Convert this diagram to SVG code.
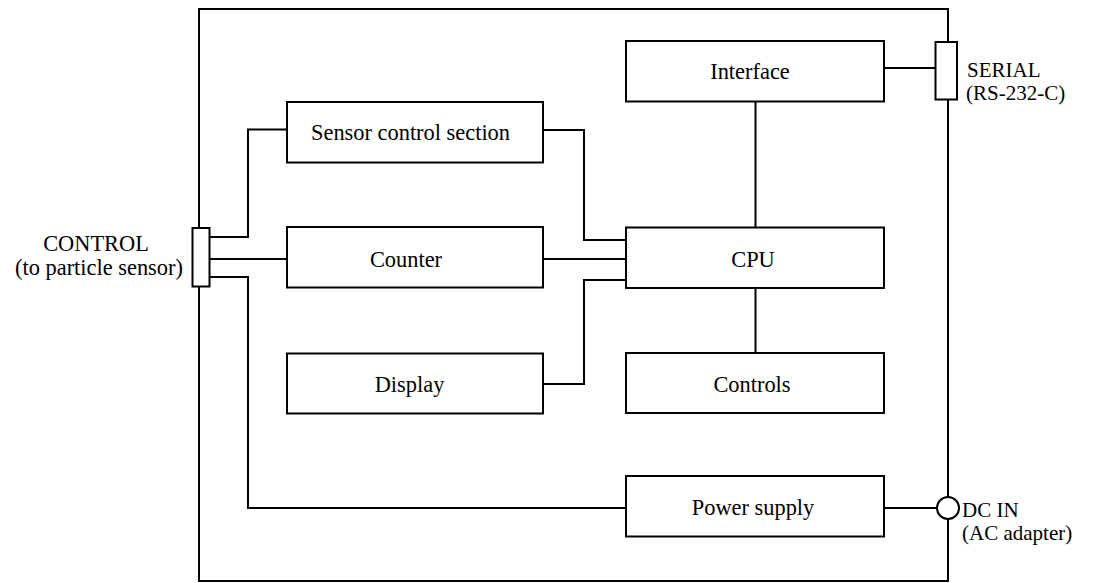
<svg xmlns="http://www.w3.org/2000/svg" width="1096" height="583" viewBox="0 0 1096 583">
<style>
.box{fill:#fff;stroke:#000;stroke-width:2}
.w{fill:none;stroke:#000;stroke-width:2}
text{font-family:"Liberation Serif","DejaVu Serif","Times New Roman",serif;font-size:22.4px;fill:#000}
.m{text-anchor:middle}
.s{font-size:21px}
</style>
<rect width="1096" height="583" fill="#fff"/>
<g id="enclosure">
<rect class="w" x="199" y="9" width="749" height="572"/>
</g>
<g id="connectors">
<polyline class="w" points="209,237 248,237 248,129.5 287,129.5"/>
<line class="w" x1="209" y1="259" x2="287" y2="259"/>
<polyline class="w" points="209,277 248,277 248,508 626,508"/>
<polyline class="w" points="543,130 584,130 584,240 626,240"/>
<line class="w" x1="543" y1="259" x2="626" y2="259"/>
<polyline class="w" points="543,384 584,384 584,280 626,280"/>
<line class="w" x1="755.5" y1="101.5" x2="755.5" y2="227.5"/>
<line class="w" x1="755.5" y1="288" x2="755.5" y2="353"/>
<line class="w" x1="884" y1="68" x2="935" y2="68"/>
<line class="w" x1="884" y1="508" x2="937" y2="508"/>
</g>
<g id="control-port">
<rect class="box" x="192.5" y="228" width="17" height="58.5"/>
<text class="m" x="96" y="251">CONTROL</text>
<text class="m" x="99" y="275">(to particle sensor)</text>
</g>
<g id="serial-port">
<rect class="box" x="935.5" y="42" width="21.5" height="57.5"/>
<text class="s" x="967" y="77">SERIAL</text>
<text class="s" x="966" y="100">(RS-232-C)</text>
</g>
<g id="dc-in">
<circle class="box" cx="948" cy="508" r="11"/>
<text class="s" x="962" y="517">DC IN</text>
<text class="s" x="962" y="540">(AC adapter)</text>
</g>
<g id="sensor-control">
<rect class="box" x="287" y="102" width="256" height="60.5"/>
<text class="m" x="410.5" y="139.5">Sensor control section</text>
</g>
<g id="counter">
<rect class="box" x="287" y="227" width="256" height="60.5"/>
<text class="m" x="406" y="266.5">Counter</text>
</g>
<g id="display">
<rect class="box" x="287" y="353.5" width="256" height="60"/>
<text class="m" x="409.5" y="391.5">Display</text>
</g>
<g id="interface">
<rect class="box" x="626" y="41" width="258" height="60.5"/>
<text class="m" x="750" y="79">Interface</text>
</g>
<g id="cpu">
<rect class="box" x="626" y="227.5" width="258" height="60.5"/>
<text class="m" x="753" y="266.5">CPU</text>
</g>
<g id="controls">
<rect class="box" x="626" y="353" width="258" height="60"/>
<text class="m" x="752" y="392">Controls</text>
</g>
<g id="power-supply">
<rect class="box" x="626" y="476" width="258" height="60.5"/>
<text class="m" x="753" y="515">Power supply</text>
</g>
</svg>
